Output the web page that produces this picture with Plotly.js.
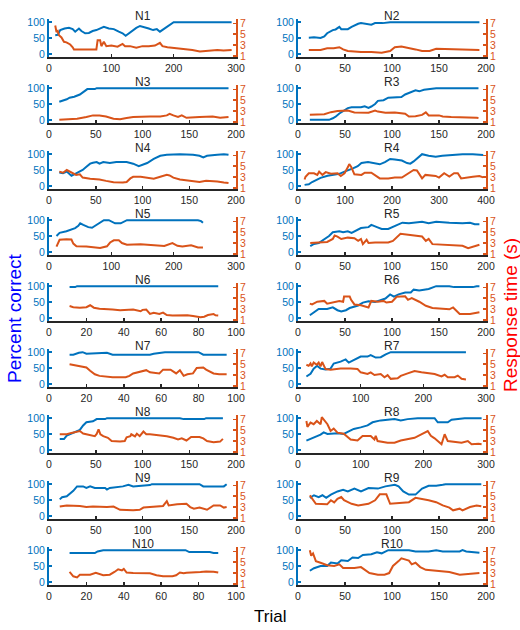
<!DOCTYPE html>
<html>
<head>
<meta charset="utf-8">
<script src="https://cdn.plot.ly/plotly-3.0.1.min.js"></script>
<style>html,body{margin:0;padding:0;background:#fff;}#chart{width:520px;height:630px;}</style>
</head>
<body>
<div id="chart"></div>
<script>
// ---- Data: [trial, percent correct] and [trial, response time (s)] ----
const N1_correct = [[10,59],[14,60],[18,75],[25,80],[32,82],[38,78],[42,70],[48,80],[52,72],[58,65],[64,66],[70,72],[76,75],[82,80],[88,85],[96,80],[104,78],[112,70],[118,65],[123,57],[128,65],[134,72],[140,82],[146,88],[152,85],[160,80],[167,75],[173,78],[178,70],[184,78],[190,85],[196,95],[200,100],[293,100]];
const N1_rt = [[10,6.6],[12,5.4],[14,5.6],[16,4.8],[20,4.4],[24,3.6],[28,3.5],[34,3.1],[38,2.6],[40,2.2],[60,2.2],[76,2.2],[78,3.9],[82,3.9],[84,2.8],[88,3.6],[92,2.8],[100,2.9],[110,2.7],[118,3.2],[122,2.8],[130,2.8],[140,2.5],[150,2.8],[160,2.8],[170,2.9],[178,3.4],[182,2.8],[190,2.6],[200,2.5],[215,2.3],[230,2.1],[242,1.8],[255,2.0],[270,2.1],[280,2.0],[293,2.1]];
const N3_correct = [[11,57],[15,60],[19,65],[22,70],[27,73],[33,80],[38,90],[41,97],[49,97],[51,100],[192,100]];
const N3_rt = [[11,1.4],[30,1.6],[40,1.9],[47,2.2],[54,2.2],[61,2.0],[69,1.6],[76,1.5],[83,1.7],[90,1.9],[108,2.0],[119,2.0],[126,2.2],[129,2.5],[133,2.2],[138,1.9],[142,2.2],[147,1.75],[161,1.9],[175,2.0],[183,1.75],[192,1.9]];
const N4_correct = [[11,42],[15,40],[19,45],[22,37],[24,32],[28,38],[31,42],[36,50],[40,60],[44,70],[47,73],[51,75],[54,70],[58,75],[65,72],[72,75],[83,75],[90,70],[96,62],[101,68],[105,72],[112,85],[119,95],[126,98],[140,100],[154,98],[161,95],[165,90],[169,95],[180,98],[187,100],[192,98]];
const N4_rt = [[11,4.0],[15,3.8],[19,4.3],[22,4.0],[26,3.7],[29,3.4],[33,3.5],[36,2.9],[44,2.7],[54,2.55],[61,2.3],[69,2.05],[79,2.0],[83,2.1],[87,2.75],[90,3.05],[98,3.05],[105,2.9],[112,2.7],[119,3.05],[126,3.4],[129,3.3],[133,2.9],[140,2.55],[147,2.4],[161,2.1],[168,2.3],[180,2.2],[187,2.0],[192,1.9]];
const N5_correct = [[12,50],[17,60],[28,65],[36,72],[42,75],[47,82],[50,90],[55,85],[63,78],[69,76],[74,82],[79,90],[88,100],[96,100],[101,95],[106,90],[115,90],[120,95],[125,100],[239,100],[244,97],[247,92]];
const N5_rt = [[12,2.35],[15,3.0],[17,3.6],[28,3.7],[36,3.65],[39,2.9],[44,2.4],[60,2.35],[71,2.2],[82,2.1],[93,2.4],[98,3.1],[104,3.5],[112,3.5],[117,3.0],[125,2.7],[147,2.8],[169,2.6],[185,2.45],[198,3.0],[206,2.5],[214,2.35],[228,2.6],[239,2.2],[247,2.2]];
const N6_correct = [[11,97],[14,97],[15,100],[90.5,100]];
const N6_rt = [[11,3.55],[13,3.35],[16.5,3.25],[20,3.35],[22,3.7],[24,3.25],[27,3.05],[31,2.9],[34,2.9],[38,2.8],[41,2.85],[45,2.9],[49,2.6],[50,2.85],[52,2.9],[54,2.1],[56,2.3],[59,2.1],[61,2.35],[63,1.9],[66,1.8],[74,1.85],[77,1.7],[81,1.5],[83,1.6],[85,1.9],[88,2.1],[89,1.85],[90.5,1.8]];
const N7_correct = [[11,92],[13,92],[16,98],[18,100],[20,95],[24,96],[27,98],[31,98],[34,92],[54,92],[56,95],[60,98],[62,100],[80,100],[82.5,92],[95,92]];
const N7_rt = [[11,5.0],[14.6,4.75],[17,4.5],[20,4.4],[22,3.8],[24.5,3.15],[27,2.85],[31,2.7],[34,2.6],[41,2.6],[43,2.85],[45,3.3],[49,3.6],[52,3.9],[54,3.5],[56,3.4],[59,3.3],[61,4.0],[65,4.0],[68,3.3],[70,3.9],[72,2.85],[74,3.15],[77,3.3],[79,4.3],[82.5,4.4],[84,4.0],[88,3.3],[91,3.15],[95,3.15]];
const N8_correct = [[11.5,34],[16,34],[19,45],[24,52],[28,58],[33,63],[36.5,77],[40,87],[47,90],[51,97],[60,97],[62,100],[140,100],[144,97],[166,97],[168,100],[186,100]];
const N8_rt = [[11.5,4.25],[19,4.25],[24,4.5],[29,4.75],[33,4.85],[36.5,4.4],[44,4.05],[49,3.9],[51,4.3],[53,5.15],[55,4.25],[58,3.9],[63,3.6],[67,3.0],[76,2.9],[81,3.0],[83,3.7],[87,3.9],[88,4.25],[92,3.85],[94,4.35],[97,3.9],[101,4.75],[104,4.25],[108,4.25],[115,4.1],[126,3.9],[133,3.6],[138,3.3],[142,3.5],[147,3.1],[152,3.75],[161,3.75],[165,3.5],[169,3.0],[176,2.8],[183,2.9],[186,3.4]];
const N9_correct = [[11.5,52],[14,59],[19,62],[22,69],[26,79],[30,93],[36.5,93],[40,88],[44,93],[49,88],[60,88],[62,83],[65,88],[79,93],[85,98],[90,93],[108,97],[110,100],[161,100],[165,93],[187,93],[190,100]];
const N9_rt = [[11.5,3.1],[19,3.3],[33,3.2],[40,3.0],[47,3.1],[62,3.0],[69,3.1],[76,2.5],[90,2.4],[97,2.5],[101,2.9],[112,3.1],[122,3.2],[126,4.1],[128,3.3],[137,3.5],[147,3.6],[151,3.0],[155,2.7],[161,2.9],[169,2.5],[176,3.3],[183,3.3],[187,2.9],[190,3.0]];
const N10_correct = [[11,91],[24.5,91],[26,96],[29,100],[73,100],[75,94],[86,94],[88,91],[90.5,91]];
const N10_rt = [[11,3.2],[13,2.4],[15,2.2],[16.5,2.7],[22,2.7],[24,3.0],[25,3.05],[29,2.6],[32.5,2.7],[35,3.2],[37,3.7],[39,3.5],[40,3.75],[41.5,3.1],[45,3.0],[54,2.95],[57.5,2.6],[61,2.4],[66,2.4],[68,2.6],[70,3.1],[72,2.95],[73.5,3.05],[81,3.2],[84,3.3],[88,3.25],[90.5,3.1]];
const N2_correct = [[11.5,51],[17,52],[24,50],[28,55],[31,65],[37,75],[40,77],[42,80],[44,85],[46,78],[53,78],[57,85],[60,90],[64,95],[67,97],[75,95],[78,92],[82,97],[90,97],[98,100],[193,100]];
const N2_rt = [[11.5,2.1],[24,2.1],[31,2.4],[38,2.4],[44,2.6],[48,2.2],[53,1.9],[67,1.7],[78,1.7],[89,1.6],[98,1.9],[103,2.6],[110,2.75],[118,2.5],[125,2.2],[132,1.9],[140,1.9],[147,2.3],[161,2.25],[176,2.1],[193,2.1]];
const R3_correct = [[12.6,0],[33,0],[37,5],[40,10],[44,20],[49,30],[53,37],[57,40],[67,40],[71,43],[75,38],[78,42],[82,50],[85,60],[91,62],[96,70],[103,72],[110,72],[114,80],[120,87],[125,93],[129,90],[134,95],[147,100],[192,100]];
const R3_rt = [[12.6,2.3],[28,2.4],[35,2.8],[42,3.0],[53,3.1],[60,2.75],[75,2.7],[82,3.1],[85,2.9],[93,2.7],[103,2.75],[114,2.5],[118,2.0],[125,2.05],[132,2.3],[136,2.75],[139,2.2],[150,2.2],[154,2.0],[163,1.9],[190,1.75],[192,1.7]];
const R4_correct = [[14,3],[23,5],[30,12],[37,18],[48,25],[63,32],[77,35],[88,38],[99,45],[109,50],[117,55],[127,62],[135,72],[149,75],[163,70],[174,68],[185,75],[196,85],[206,83],[221,80],[232,72],[239,70],[246,77],[257,93],[264,100],[278,95],[293,92],[307,95],[322,97],[350,100],[372,100],[386,97],[394,97]];
const R4_rt = [[14,2.55],[16,3.05],[23,3.7],[34,3.7],[41,3.4],[45,4.0],[52,3.4],[59,3.9],[70,3.6],[84,3.7],[91,3.2],[99,3.7],[106,4.8],[109,5.4],[113,4.9],[120,3.5],[135,3.4],[142,3.8],[156,3.8],[167,3.2],[174,2.75],[192,2.75],[206,2.9],[221,2.9],[235,3.7],[246,4.3],[253,4.2],[260,3.4],[264,2.75],[271,3.4],[293,3.2],[300,2.9],[311,3.7],[322,3.1],[332,3.7],[340,3.7],[347,2.75],[372,3.05],[386,3.2],[394,2.95]];
const R5_correct = [[13,18],[17,25],[22,28],[28,40],[33,50],[37,62],[44,65],[48,62],[53,65],[57,60],[62,68],[67,75],[75,78],[78,85],[84,78],[89,72],[96,72],[103,82],[111,92],[118,90],[125,92],[132,95],[139,90],[147,95],[161,92],[175,90],[183,92],[188,87],[193,87]];
const R5_rt = [[13,3.0],[24,3.2],[31,3.2],[37,3.75],[39,4.4],[42,4.2],[46,3.75],[53,4.0],[60,3.9],[64,3.4],[67,3.75],[69,2.8],[73,3.6],[75,3.0],[82,3.1],[96,3.1],[101,3.4],[109,4.7],[118,4.5],[125,4.4],[132,4.2],[136,3.4],[139,3.75],[143,2.8],[154,2.7],[168,2.65],[175,2.5],[181,2.05],[185,2.3],[190,2.5],[193,2.7]];
const R6_correct = [[12.6,8],[17,17],[22,28],[31,28],[37,33],[42,24],[46,20],[51,24],[55,31],[64,39],[69,48],[75,52],[82,50],[87,55],[93,61],[98,74],[102,67],[107,74],[114,80],[120,80],[123,89],[129,86],[139,91],[147,100],[161,100],[166,97],[186,97],[190,100],[193,100]];
const R6_rt = [[12.6,4.0],[15,3.85],[20.5,4.35],[28,4.5],[31,4.0],[38.5,4.35],[44,4.5],[48,4.35],[49,5.3],[55,5.3],[56.5,4.7],[60,3.85],[67,3.7],[75,3.3],[78,4.5],[85,4.35],[91,4.5],[94,4.2],[100,4.35],[105,5.25],[114,5.35],[117,4.7],[121,5.0],[129,4.35],[136,3.6],[143,3.2],[154,3.05],[161,2.95],[165,3.3],[172,2.1],[183,2.1],[190,2.4],[193,2.4]];
const R7_correct = [[13.4,23],[20,32],[25,48],[30.5,57],[36,48],[44,45],[52,48],[57,64],[68,70],[76,77],[81,67],[89,75],[100,86],[111,86],[116,91],[124,83],[132,84],[140,93],[148,100],[268,100]];
const R7_rt = [[13.4,4.9],[17,4.7],[20,5.15],[22,4.6],[25,5.3],[30,4.9],[33,5.3],[36,4.6],[38.5,5.4],[44,4.1],[52,4.0],[60,4.1],[68,4.2],[84,4.2],[95,4.1],[100,3.5],[111,3.2],[116,3.5],[122,3.0],[132,3.2],[138,2.6],[143,3.0],[148,2.3],[159,2.4],[164,2.85],[175,3.3],[186,3.75],[197,3.5],[207,3.4],[218,3.2],[229,2.75],[234,3.05],[239,2.6],[250,2.6],[255,2.9],[261,2.3],[268,2.2]];
const R8_correct = [[13.4,29],[25,39],[36,48],[41,55],[47,50],[63,52],[73,50],[81,58],[89,66],[100,71],[111,77],[119,87],[132,93],[143,95],[154,97],[164,93],[175,97],[191,100],[218,100],[223,87],[239,87],[245,95],[261,98],[266,100],[293,100]];
const R8_rt = [[13.4,6.7],[15,5.6],[20,6.4],[25,6.1],[30,6.7],[36,6.1],[38,7.4],[41,7.0],[47,6.1],[52,4.85],[57,5.3],[63,4.55],[73,4.35],[84,3.3],[95,3.1],[103,3.95],[116,3.95],[122,3.3],[124,3.95],[127,3.0],[143,2.7],[154,2.7],[164,3.1],[186,3.6],[197,4.25],[207,4.85],[212,3.95],[218,3.5],[229,2.4],[234,4.25],[239,3.0],[250,2.9],[261,2.7],[271,3.0],[277,2.4],[288,2.5],[293,2.4]];
const R9_correct = [[12.6,57],[17,65],[22,59],[26,65],[30,57],[35,67],[42,77],[48,82],[53,77],[60,86],[67,77],[75,88],[85,86],[93,93],[103,98],[107,93],[112,77],[118,67],[125,67],[132,86],[139,95],[147,95],[154,98],[157,100],[195,100]];
const R9_rt = [[12.6,5.15],[15,4.5],[19,3.6],[31,3.5],[35,4.25],[38.5,3.85],[42,4.5],[46,4.85],[49,4.25],[57,3.6],[64,3.3],[75,3.6],[82,4.25],[87,5.35],[94,5.35],[98,3.6],[103,3.7],[118,3.9],[125,4.7],[132,4.5],[139,4.25],[147,3.9],[154,3.3],[161,2.9],[165,2.4],[172,2.7],[175,2.4],[183,3.0],[190,3.3],[195,3.15]];
const R10_correct = [[12.6,35],[17,43],[24,50],[31,50],[35,61],[42,58],[46,68],[53,66],[58,77],[64,75],[69,85],[78,87],[84,93],[89,90],[96,100],[118,100],[125,96],[139,96],[147,100],[154,96],[172,96],[175,100],[179,96],[190,94],[193,92]];
const R10_rt = [[12.6,7.2],[14,6.2],[16,6.6],[19,5.2],[24,4.9],[31,4.45],[38.5,4.3],[44,4.6],[48,3.95],[60,3.95],[67,4.1],[71,3.6],[76,3.0],[85,2.7],[92,2.7],[97,3.0],[101,4.3],[107,5.2],[110,5.7],[118,5.3],[121,4.6],[125,4.9],[130,4.1],[136,3.6],[154,3.4],[161,3.2],[172,2.7],[183,2.9],[193,3.0]];

// panel order: left column top->bottom, then right column top->bottom
const panelNames = ['N1','N3','N4','N5','N6','N7','N8','N9','N10','N2','R3','R4','R5','R6','R7','R8','R9','R10'];
const panelXMax  = [300,200,200,300,100,100,200,200,100, 200,200,400,200,200,300,300,200,200];
const correctSeries = [N1_correct,N3_correct,N4_correct,N5_correct,N6_correct,N7_correct,N8_correct,N9_correct,N10_correct,N2_correct,R3_correct,R4_correct,R5_correct,R6_correct,R7_correct,R8_correct,R9_correct,R10_correct];
const rtSeries = [N1_rt,N3_rt,N4_rt,N5_rt,N6_rt,N7_rt,N8_rt,N9_rt,N10_rt,N2_rt,R3_rt,R4_rt,R5_rt,R6_rt,R7_rt,R8_rt,R9_rt,R10_rt];
const pctTicks = [0,50,100];
const rtTicks = [1,3,5,7];

// ---- Layout ----
const W = 520, H = 630;
const FONT = 'Liberation Sans, Arial, sans-serif';
const BLUE = '#0072BD', ORANGE = '#D95319', DARK = '#262626';
const sfx = n => (n === 1 ? '' : String(n));

const data = [];
const layout = {
  width: W, height: H, autosize: false,
  margin: {l: 0, r: 0, t: 0, b: 0},
  paper_bgcolor: '#fff', plot_bgcolor: 'rgba(0,0,0,0)',
  showlegend: false,
  font: {family: FONT, size: 11, color: DARK},
  annotations: []
};

panelNames.forEach((name, k) => {
  const col = k < 9 ? 0 : 1;
  const row = k % 9;
  const x0 = col ? 298 : 49, x1 = col ? 486 : 236;
  const top = 19 + 66 * row, bot = 57 + 66 * row;
  const xn = k + 1, yl = 2 * k + 1, yr = 2 * k + 2;
  const xmax = panelXMax[k];
  const dtick = xmax === 100 ? 20 : (xmax === 200 ? 50 : 100);

  layout['xaxis' + sfx(xn)] = {
    domain: [x0 / W, x1 / W], anchor: 'y' + sfx(yl),
    range: [0, xmax], dtick: dtick, tick0: 0,
    showline: true, linecolor: DARK, linewidth: 2,
    ticks: 'inside', ticklen: 3, tickwidth: 1.5, tickcolor: DARK,
    showgrid: false, zeroline: false,
    tickfont: {family: FONT, size: 10.5, color: DARK}, fixedrange: true
  };
  layout['yaxis' + sfx(yl)] = {
    domain: [1 - bot / H, 1 - top / H], anchor: 'x' + sfx(xn),
    range: [-10, 110], tickvals: pctTicks,
    showline: true, linecolor: BLUE, linewidth: 2,
    ticks: 'inside', ticklen: 3, tickwidth: 1.5, tickcolor: BLUE,
    showgrid: false, zeroline: false,
    tickfont: {family: FONT, size: 10.5, color: BLUE}, fixedrange: true
  };
  layout['yaxis' + sfx(yr)] = {
    overlaying: 'y' + sfx(yl), side: 'right', anchor: 'x' + sfx(xn),
    range: [0.8, 7.8], tickvals: rtTicks,
    showline: true, linecolor: ORANGE, linewidth: 2,
    ticks: 'inside', ticklen: 3, tickwidth: 1.5, tickcolor: ORANGE,
    showgrid: false, zeroline: false,
    tickfont: {family: FONT, size: 10.5, color: ORANGE}, fixedrange: true
  };

  const c = correctSeries[k], r = rtSeries[k];
  data.push({
    type: 'scatter', mode: 'lines', name: name + ' percent correct',
    x: c.map(p => p[0]), y: c.map(p => p[1]),
    xaxis: 'x' + sfx(xn), yaxis: 'y' + sfx(yl),
    line: {color: BLUE, width: 2}, hoverinfo: 'skip'
  });
  data.push({
    type: 'scatter', mode: 'lines', name: name + ' response time',
    x: r.map(p => p[0]), y: r.map(p => p[1]),
    xaxis: 'x' + sfx(xn), yaxis: 'y' + sfx(yr),
    line: {color: ORANGE, width: 2}, hoverinfo: 'skip'
  });

  layout.annotations.push({
    text: name, xref: 'paper', yref: 'paper',
    x: (x0 + x1) / 2 / W, y: 1 - top / H, xanchor: 'center', yanchor: 'bottom',
    yshift: -5, borderpad: 0, showarrow: false, font: {family: FONT, size: 12, color: DARK}
  });
});

layout.annotations.push({
  text: 'Percent correct', xref: 'paper', yref: 'paper',
  x: 14 / W, y: 1 - 318 / H, xanchor: 'center', yanchor: 'middle',
  textangle: -90, showarrow: false, font: {family: FONT, size: 19, color: '#0000FF'}
});
layout.annotations.push({
  text: 'Response time (s)', xref: 'paper', yref: 'paper',
  x: 510 / W, y: 1 - 315 / H, xanchor: 'center', yanchor: 'middle',
  textangle: -90, showarrow: false, font: {family: FONT, size: 19, color: '#FF0000'}
});
layout.annotations.push({
  text: 'Trial', xref: 'paper', yref: 'paper',
  x: 270 / W, y: 1 - 616 / H, xanchor: 'center', yanchor: 'middle',
  showarrow: false, font: {family: FONT, size: 17, color: '#000'}
});

Plotly.newPlot('chart', data, layout, {staticPlot: true, displayModeBar: false});
</script>
</body>
</html>
